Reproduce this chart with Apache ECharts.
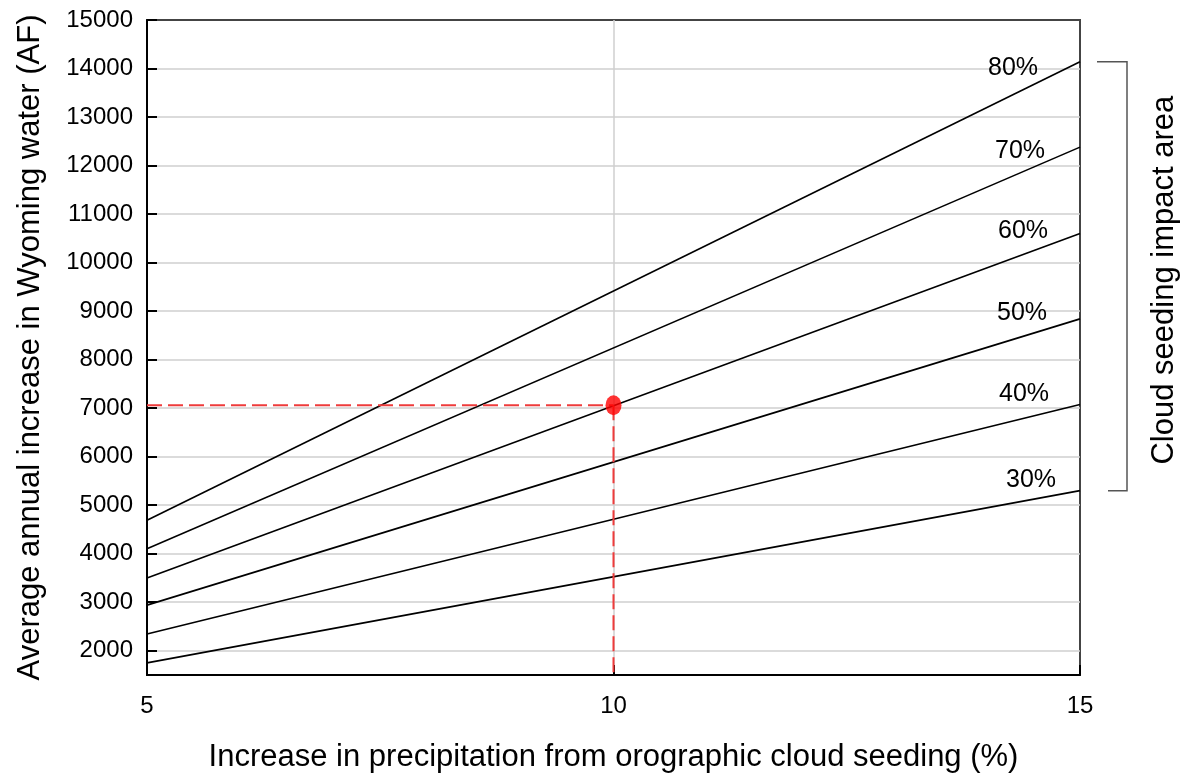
<!DOCTYPE html>
<html>
<head>
<meta charset="utf-8">
<script src="https://cdn.jsdelivr.net/npm/echarts@6/dist/echarts.min.js"></script>
<style>
html,body{margin:0;padding:0;background:#fff;}
#main{width:1184px;height:774px;}
</style>
</head>
<body>
<div id="main"></div>
<script>
// Precipitation increase (%) at which values were read
const xValues = [5, 15];
// Average annual increase in Wyoming water (AF) for each impact-area share
const areaLabels = ['30%', '40%', '50%', '60%', '70%', '80%'];
const area30 = [1750, 5300];
const area40 = [2345, 7075];
const area50 = [2940, 8840];
const area60 = [3500, 10600];
const area70 = [4100, 12380];
const area80 = [4690, 14140];
// Highlighted example point
const examplePoint = [10, 7060];
const yMin = 1500, yMax = 15000;

const allSeriesValues = [area30, area40, area50, area60, area70, area80];
const labelOffsets = [[-49, -11], [-56, -10], [-58, -6], [-57, -2], [-60, 4], [-67, 6]];
const FONT = 'Liberation Sans, Arial, sans-serif';

const chart = echarts.init(document.getElementById('main'), null, {renderer: 'canvas'});

const lineSeries = allSeriesValues.map((vals, i) => ({
  type: 'line',
  name: areaLabels[i],
  data: vals.map((v, j) => {
    const item = {value: [xValues[j], v]};
    if (j === vals.length - 1) {
      item.label = {
        show: true,
        position: 'inside',
        offset: labelOffsets[i],
        formatter: areaLabels[i],
        color: '#000',
        fontSize: 25,
        fontFamily: FONT
      };
    }
    return item;
  }),
  showSymbol: true,
  symbol: 'circle',
  symbolSize: 0,
  itemStyle: {color: '#000'},
  lineStyle: {color: '#000', width: 1.6},
  silent: true,
  z: 3
}));

const option = {
  animation: false,
  backgroundColor: '#fff',
  grid: {
    left: 147, right: 104, top: 20, bottom: 99,
    containLabel: false, outerBoundsMode: 'none',
    show: true, borderColor: '#444', borderWidth: 2, backgroundColor: 'transparent'
  },
  xAxis: {
    type: 'value', min: 5, max: 15, interval: 5,
    name: 'Increase in precipitation from orographic cloud seeding (%)',
    nameLocation: 'middle', nameGap: 67,
    nameTextStyle: {fontSize: 31, color: '#000', fontFamily: FONT},
    axisLine: {show: true, onZero: false, lineStyle: {color: '#000', width: 2}},
    axisTick: {show: true, inside: true, length: 10, lineStyle: {color: '#000', width: 2}},
    axisLabel: {fontSize: 24, color: '#000', margin: 19, fontFamily: FONT},
    splitLine: {show: true, showMinLine: false, showMaxLine: false, lineStyle: {color: '#cfcfcf', width: 1.5}}
  },
  yAxis: {
    type: 'value', min: yMin, max: yMax, splitNumber: 13,
    minInterval: 1000, maxInterval: 1000,
    name: 'Average annual increase in Wyoming water (AF)',
    nameLocation: 'middle', nameGap: 101,
    nameTextStyle: {fontSize: 31, color: '#000', fontFamily: FONT},
    axisLine: {show: true, onZero: false, lineStyle: {color: '#000', width: 2}},
    axisTick: {show: true, inside: true, length: 10, lineStyle: {color: '#000', width: 2}},
    axisLabel: {
      fontSize: 24, color: '#000', margin: 14, fontFamily: FONT,
      showMinLabel: false,
      formatter: v => (v % 1000 === 0 ? String(v) : '')
    },
    splitLine: {show: true, showMinLine: false, showMaxLine: false, lineStyle: {color: '#cfcfcf', width: 1.5}}
  },
  series: lineSeries.concat([
    {
      type: 'line', name: 'guideH',
      data: [[xValues[0], examplePoint[1]], examplePoint],
      showSymbol: false, silent: true,
      lineStyle: {color: '#ee3b3b', width: 1.8, type: [15, 6]}, z: 4
    },
    {
      type: 'line', name: 'guideV',
      data: [examplePoint, [examplePoint[0], yMin]],
      showSymbol: false, silent: true,
      lineStyle: {color: '#ee3b3b', width: 2, type: [15, 6]}, z: 4
    },
    {
      type: 'scatter', name: 'example',
      data: [examplePoint],
      symbol: 'circle', symbolSize: [16, 20],
      itemStyle: {color: '#ff0000'}, silent: true, z: 5
    }
  ])
};

chart.setOption(option);

// Bracket annotation spanning the line ends
const topPt = chart.convertToPixel({gridIndex: 0}, [xValues[1], area80[1]]);
const botPt = chart.convertToPixel({gridIndex: 0}, [xValues[1], area30[1]]);
const bx = topPt[0] + 47;
const midY = (topPt[1] + botPt[1]) / 2;
chart.setOption({
  graphic: [
    {
      type: 'polyline', silent: true,
      shape: {points: [[bx - 30, topPt[1]], [bx, topPt[1]], [bx, botPt[1]], [bx - 19, botPt[1]]]},
      style: {stroke: '#555', lineWidth: 1.5, fill: null}
    },
    {
      type: 'text', silent: true,
      x: bx + 37, y: midY + 4, rotation: Math.PI / 2,
      style: {
        text: 'Cloud seeding impact area',
        fontSize: 31, fontFamily: FONT, fill: '#000',
        align: 'center', verticalAlign: 'middle'
      }
    }
  ]
});
</script>
</body>
</html>
